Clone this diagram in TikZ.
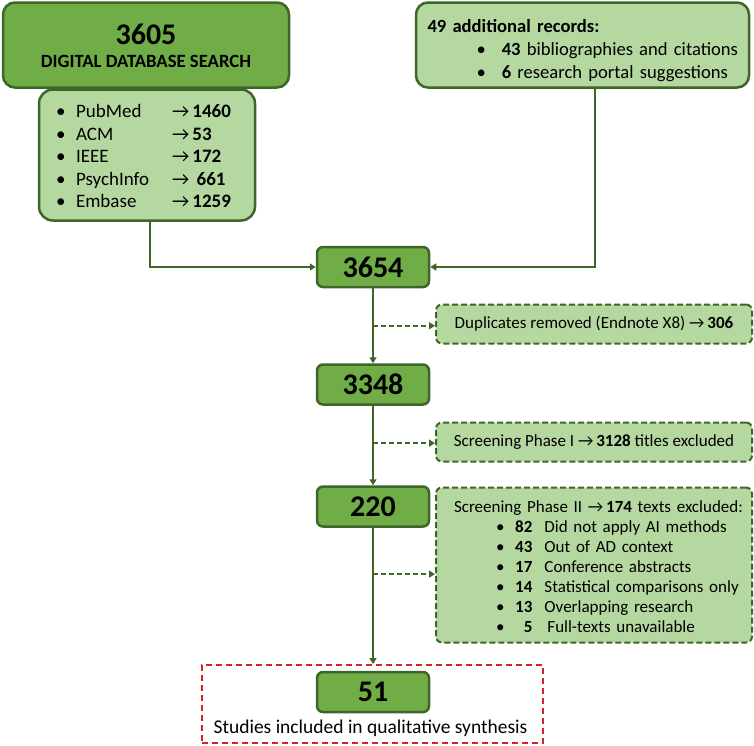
\documentclass[tikz,border=0pt]{standalone}
\usepackage{fontspec}
\setmainfont{Carlito}
\usetikzlibrary{arrows.meta,calc}
\definecolor{boxdark}{RGB}{112,173,71}
\definecolor{boxlight}{RGB}{181,215,160}
\definecolor{edgegreen}{RGB}{62,102,40}
\definecolor{redline}{RGB}{212,36,40}
\newcommand{\dropby}[2]{\raisebox{-#1}[\height][\depth]{#2}}
\begin{document}
\begin{tikzpicture}[x=1pt,y=-1pt,
    countbox/.style={draw=edgegreen,fill=boxdark,line width=2.5pt,rounded corners=6pt,
      minimum width=112pt,minimum height=40pt,inner sep=0pt,font=\fontsize{30}{32}\selectfont\bfseries},
    listbox/.style={draw=edgegreen,fill=boxlight,line width=2.5pt,rounded corners=14pt},
    notebox/.style={draw=edgegreen,fill=boxlight,line width=2pt,dash pattern=on 6pt off 3pt,
      rounded corners=6pt,minimum width=316pt,font=\fontsize{17}{20}\selectfont},
    flow/.style={draw=edgegreen,line width=1.5pt,-{Triangle[length=6pt,width=7pt]}},
    sideflow/.style={flow,dash pattern=on 5pt off 3pt}]
  \useasboundingbox (0,0) rectangle (754,745);

  % sources
  \node[listbox,minimum width=216pt,minimum height=131pt,font=\fontsize{19}{22.5}\selectfont] (dblist) at (147,155)
    {\dropby{3pt}{\begin{tabular}{@{}p{20pt}@{}p{96pt}@{}l@{\hspace{7pt}}}
       \textbullet & PubMed    & →\,\textbf{1460}\\
       \textbullet & ACM       & →\,\textbf{53}\\
       \textbullet & IEEE      & →\,\textbf{172}\\
       \textbullet & PsychInfo & →\ \,\textbf{661}\\
       \textbullet & Embase    & →\,\textbf{1259}
     \end{tabular}}};
  \node[listbox,fill=boxdark,rounded corners=12pt,minimum width=286pt,minimum height=85pt,
    inner sep=0pt,font=\bfseries] (search) at (146,45)
    {\dropby{2.5pt}{\begin{tabular}{@{}c@{}}
       \fontsize{30}{30}\selectfont 3605\\[8pt]
       \fontsize{18.7}{20}\selectfont DIGITAL DATABASE SEARCH
     \end{tabular}}};
  \node[listbox,rounded corners=12pt,minimum height=85pt,text width=310pt,inner xsep=11.5pt,
    align=left,font=\fontsize{18.6}{23}\selectfont] (extra) at (582.5,45)
    {\dropby{6pt}{\begin{tabular}{@{}l@{}}
       \textbf{49 additional records:}\\
       \hspace*{49pt}\textbullet\hspace{16pt}\textbf{43} bibliographies and citations\\
       \hspace*{49pt}\textbullet\hspace{16pt}\textbf{6} research portal suggestions
     \end{tabular}}};

  % counts
  \node[countbox] (n3654) at (373,267) {3654};
  \node[countbox] (n3348) at (373,384.5) {3348};
  \node[countbox] (n220) at (373,506.5) {220};

  % exclusions
  \node[notebox,minimum height=39pt] (dup) at (594,324)
    {Duplicates removed (Endnote X8) →\,\textbf{306}};
  \node[notebox,minimum height=39pt] (phase1) at (594,442)
    {Screening Phase I →\,\textbf{3128} titles excluded};
  \node[notebox,minimum height=155pt,text width=280pt,inner xsep=18pt,align=left] (phase2) at (594,565)
    {\dropby{3pt}{\begin{tabular}{@{}l@{}}
       Screening Phase II →\,\textbf{174} texts excluded:\\
       \hspace*{42pt}\textbullet\hspace{11pt}\makebox[17pt][r]{\textbf{82}}\hspace{12pt}Did not apply AI methods\\
       \hspace*{42pt}\textbullet\hspace{11pt}\makebox[17pt][r]{\textbf{43}}\hspace{12pt}Out of AD context\\
       \hspace*{42pt}\textbullet\hspace{11pt}\makebox[17pt][r]{\textbf{17}}\hspace{12pt}Conference abstracts\\
       \hspace*{42pt}\textbullet\hspace{11pt}\makebox[17pt][r]{\textbf{14}}\hspace{12pt}Statistical comparisons only\\
       \hspace*{42pt}\textbullet\hspace{11pt}\makebox[17pt][r]{\textbf{13}}\hspace{12pt}Overlapping research\\
       \hspace*{42pt}\textbullet\hspace{11pt}\makebox[17pt][r]{\textbf{5}}\hspace{15pt}Full-texts unavailable
     \end{tabular}}};

  % included
  \node[draw=redline,line width=1.8pt,dash pattern=on 6pt off 4pt,minimum width=341pt,
    minimum height=78pt] (final) at (372.5,704) {};
  \node[countbox] (n51) at (373,692) {51};
  \node[font=\fontsize{19.5}{20}\selectfont] (caption) at (370.5,728) {Studies included in qualitative synthesis};

  % connectors
  \draw[flow] ([xshift=3pt]dblist.south) |- (n3654.west);
  \draw[flow] ([xshift=12.5pt]extra.south) |- (n3654.east);
  \draw[flow] (n3654) -- (n3348);
  \draw[flow] (n3348) -- (n220);
  \draw[flow] (n220.south) -- (n220.south |- final.north);
  \coordinate (b1) at ($(n3654.south)!0.5!(n3348.north)$);
  \coordinate (b2) at ($(n3348.south)!0.47!(n220.north)$);
  \coordinate (b3) at ($(n220.south)!0.34!(n220.south |- final.north)$);
  \draw[sideflow] (b1) -- (b1 -| dup.west);
  \draw[sideflow] (b2) -- (b2 -| phase1.west);
  \draw[sideflow] (b3) -- (b3 -| phase2.west);
\end{tikzpicture}
\end{document}
